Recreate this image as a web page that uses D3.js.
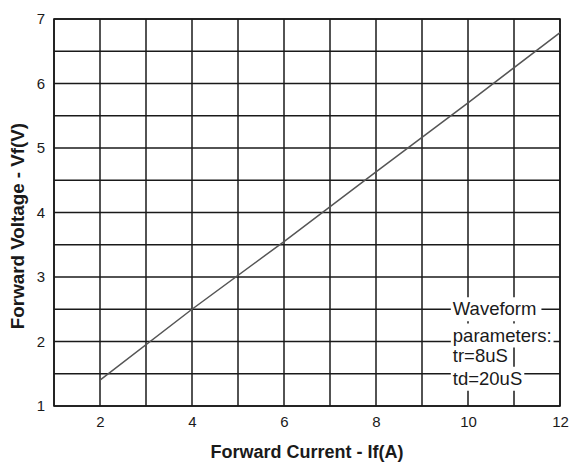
<!DOCTYPE html>
<html><head><meta charset="utf-8">
<script src="https://cdn.jsdelivr.net/npm/d3@7"></script>
<style>html,body{margin:0;padding:0;background:#fff;}svg{display:block;}</style>
</head><body>
<svg id="c" width="571" height="465"></svg>
<script>
const currentA = [2, 4, 6, 8, 10, 12];
const voltageV = [1.4, 2.5, 3.55, 4.63, 5.7, 6.79];
const xTicks = [2, 4, 6, 8, 10, 12];
const yTicks = [1, 2, 3, 4, 5, 6, 7];
const xGrid = d3.range(1, 13, 1);
const yGrid = d3.range(1, 7.01, 0.5);
const legendLines = ["Waveform", "parameters:", "tr=8uS", "td=20uS"];
const xTitle = "Forward Current - If(A)";
const yTitle = "Forward Voltage - Vf(V)";

const svg = d3.select("#c");
const L = 54, R = 560, T = 19, B = 406;
const x = d3.scaleLinear().domain([1, 12]).range([L, R]);
const y = d3.scaleLinear().domain([1, 7]).range([B, T]);
const font = "Liberation Sans, Arial, Helvetica, sans-serif";

const g = svg.append("g");
g.selectAll("line.vx").data(xGrid).enter().append("line")
  .attr("x1", d => x(d)).attr("x2", d => x(d)).attr("y1", T).attr("y2", B)
  .attr("stroke", "#1a1a1a").attr("stroke-width", 1.5);
g.selectAll("line.hy").data(yGrid).enter().append("line")
  .attr("y1", d => y(d)).attr("y2", d => y(d)).attr("x1", L).attr("x2", R)
  .attr("stroke", "#1a1a1a").attr("stroke-width", 1.5);
g.append("rect").attr("x", L).attr("y", T).attr("width", R - L).attr("height", B - T)
  .attr("fill", "none").attr("stroke", "#1a1a1a").attr("stroke-width", 1.6);

// data line
const pts = currentA.map((c, i) => [c, voltageV[i]]);
svg.append("path").datum(pts)
  .attr("d", d3.line().x(d => x(d[0])).y(d => y(d[1])))
  .attr("fill", "none").attr("stroke", "#555").attr("stroke-width", 1.5);

// legend text with white backgrounds
const lx = x(9.67);
const baseY = [y(2.5) + 6, y(2), y(2) + 20, y(1.5) + 11];
const padR = [5, 2, 2, 2];
const lg = svg.append("g");
legendLines.forEach((t, i) => {
  const txt = lg.append("text").attr("x", lx).attr("y", baseY[i])
    .attr("font-family", font).attr("font-size", "18.5px").attr("fill", "#1a1a1a").text(t);
  const bb = txt.node().getBBox();
  lg.insert("rect", "text").attr("x", bb.x - 2).attr("y", bb.y - 1)
    .attr("width", bb.width + 2 + padR[i]).attr("height", bb.height + 3).attr("fill", "#fff");
});

// axes tick labels
const xAxis = d3.axisBottom(x).tickValues(xTicks).tickFormat(d3.format("d")).tickSize(0).tickPadding(0);
const xa = svg.append("g").attr("transform", `translate(0,${B})`).call(xAxis);
xa.select(".domain").remove();
xa.selectAll("text").attr("font-family", font).attr("font-size", "15px").attr("fill", "#1a1a1a")
  .attr("dy", null).attr("y", 20.7);

const yAxis = d3.axisLeft(y).tickValues(yTicks).tickFormat(d3.format("d")).tickSize(0).tickPadding(9);
const ya = svg.append("g").attr("transform", `translate(${L},0)`).call(yAxis);
ya.select(".domain").remove();
ya.selectAll("text").attr("font-family", font).attr("font-size", "15px").attr("fill", "#1a1a1a")
  .attr("dy", null).attr("y", 4.5);

// titles
svg.append("text").attr("x", (L + R) / 2).attr("y", 458).attr("text-anchor", "middle")
  .attr("font-family", font).attr("font-weight", "bold").attr("font-size", "18px").attr("fill", "#1a1a1a")
  .text(xTitle);
svg.append("text").attr("transform", "translate(24,226) rotate(-90)").attr("text-anchor", "middle")
  .attr("font-family", font).attr("font-weight", "bold").attr("font-size", "18.8px").attr("fill", "#1a1a1a")
  .text(yTitle);
</script>
</body></html>
